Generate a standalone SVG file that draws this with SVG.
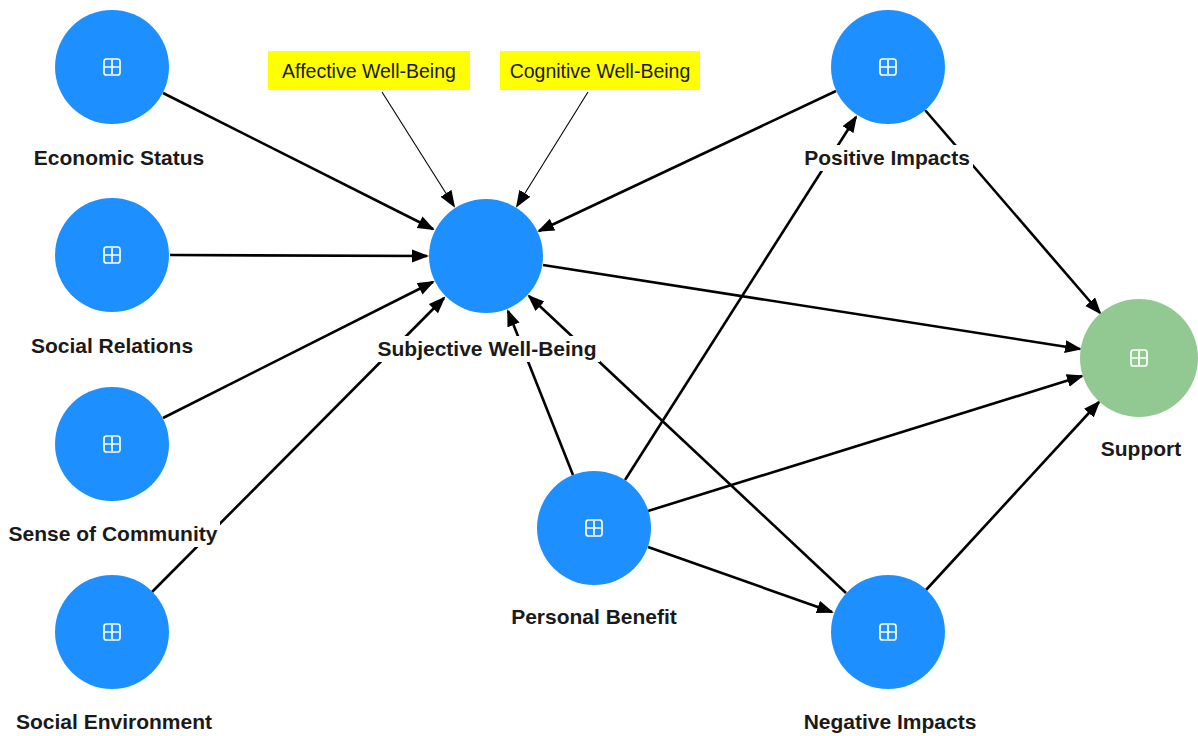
<svg xmlns="http://www.w3.org/2000/svg" width="1198" height="736" viewBox="0 0 1198 736">
<style>
.n{fill:#1e8fff}
.s{fill:#92c992}
.ic{fill:none;stroke:#fff;stroke-width:1.7}
.bg{fill:#fff}
.lb{font-family:"Liberation Sans",Arial,sans-serif;font-weight:bold;font-size:21px;fill:#1a1a1a;text-anchor:middle}
.yl{font-family:"Liberation Sans",Arial,sans-serif;font-size:19.5px;fill:#1a1a1a;text-anchor:middle}
.e{stroke:#000;stroke-width:2.6;fill:none;marker-end:url(#ah)}
.t{stroke:#000;stroke-width:1.1;fill:none;marker-end:url(#ah2)}
</style>
<defs>
<marker id="ah" markerUnits="userSpaceOnUse" markerWidth="18" markerHeight="14" refX="15" refY="6.5" orient="auto"><path d="M0,0 L17,6.5 L0,13 Z" fill="#000"/></marker>
<marker id="ah2" markerUnits="userSpaceOnUse" markerWidth="18" markerHeight="14" refX="15" refY="6.5" orient="auto"><path d="M0,0 L17,6.5 L0,13 Z" fill="#000"/></marker>
<g id="plus"><rect x="-8" y="-8" width="16" height="16" rx="2.5" class="ic"/><path d="M0,-7 V7 M-7,0 H7" class="ic"/></g>
</defs>
<rect width="1198" height="736" fill="#fff"/>
<g id="connectors">
<line class="e" x1="163" y1="93" x2="433" y2="229"/>
<line class="e" x1="170" y1="255" x2="427" y2="256"/>
<line class="e" x1="163" y1="418" x2="433" y2="282"/>
<line class="e" x1="152" y1="592" x2="444" y2="298"/>
<line class="e" x1="836" y1="91" x2="539" y2="231"/>
<line class="e" x1="573" y1="475" x2="508" y2="311"/>
<line class="e" x1="846" y1="593" x2="529" y2="296"/>
<line class="e" x1="543" y1="265" x2="1080" y2="349"/>
<line class="e" x1="625" y1="480" x2="856" y2="117"/>
<line class="e" x1="648" y1="511" x2="1082" y2="376"/>
<line class="e" x1="648" y1="547" x2="832" y2="612"/>
<line class="e" x1="925" y1="110" x2="1100" y2="313"/>
<line class="e" x1="926" y1="590" x2="1099" y2="402"/>
<line class="t" x1="382" y1="92" x2="454" y2="206"/>
<line class="t" x1="588" y1="92" x2="517" y2="206"/>
</g>
<g id="economic-status"><circle class="n" cx="112" cy="67" r="57"/><use href="#plus" x="112" y="67"/><text class="lb" x="119" y="165">Economic Status</text></g>
<g id="social-relations"><circle class="n" cx="112" cy="255" r="57"/><use href="#plus" x="112" y="255"/><text class="lb" x="112" y="353">Social Relations</text></g>
<g id="sense-of-community"><circle class="n" cx="112" cy="444" r="57"/><use href="#plus" x="112" y="444"/><rect class="bg" x="6" y="521" width="214" height="26"/><text class="lb" x="113" y="541">Sense of Community</text></g>
<g id="social-environment"><circle class="n" cx="112" cy="632" r="57"/><use href="#plus" x="112" y="632"/><text class="lb" x="114" y="729">Social Environment</text></g>
<g id="subjective-well-being"><circle class="n" cx="486" cy="256" r="57"/><rect class="bg" x="374" y="336" width="226" height="26"/><text class="lb" x="487" y="356">Subjective Well-Being</text></g>
<g id="positive-impacts"><circle class="n" cx="888" cy="67" r="57"/><use href="#plus" x="888" y="67"/><rect class="bg" x="801" y="145" width="172" height="26"/><text class="lb" x="887" y="165">Positive Impacts</text></g>
<g id="personal-benefit"><circle class="n" cx="594" cy="528" r="57"/><use href="#plus" x="594" y="528"/><text class="lb" x="594" y="624">Personal Benefit</text></g>
<g id="negative-impacts"><circle class="n" cx="888" cy="632" r="57"/><use href="#plus" x="888" y="632"/><text class="lb" x="890" y="729">Negative Impacts</text></g>
<g id="support"><circle class="s" cx="1139" cy="358" r="59"/><use href="#plus" x="1139" y="358"/><text class="lb" x="1141" y="456">Support</text></g>
<g id="affective-well-being"><rect x="268" y="51" width="202" height="39" fill="#ffff00"/><text class="yl" x="369" y="78">Affective Well-Being</text></g>
<g id="cognitive-well-being"><rect x="500" y="51" width="200" height="39" fill="#ffff00"/><text class="yl" x="600" y="78">Cognitive Well-Being</text></g>
</svg>
